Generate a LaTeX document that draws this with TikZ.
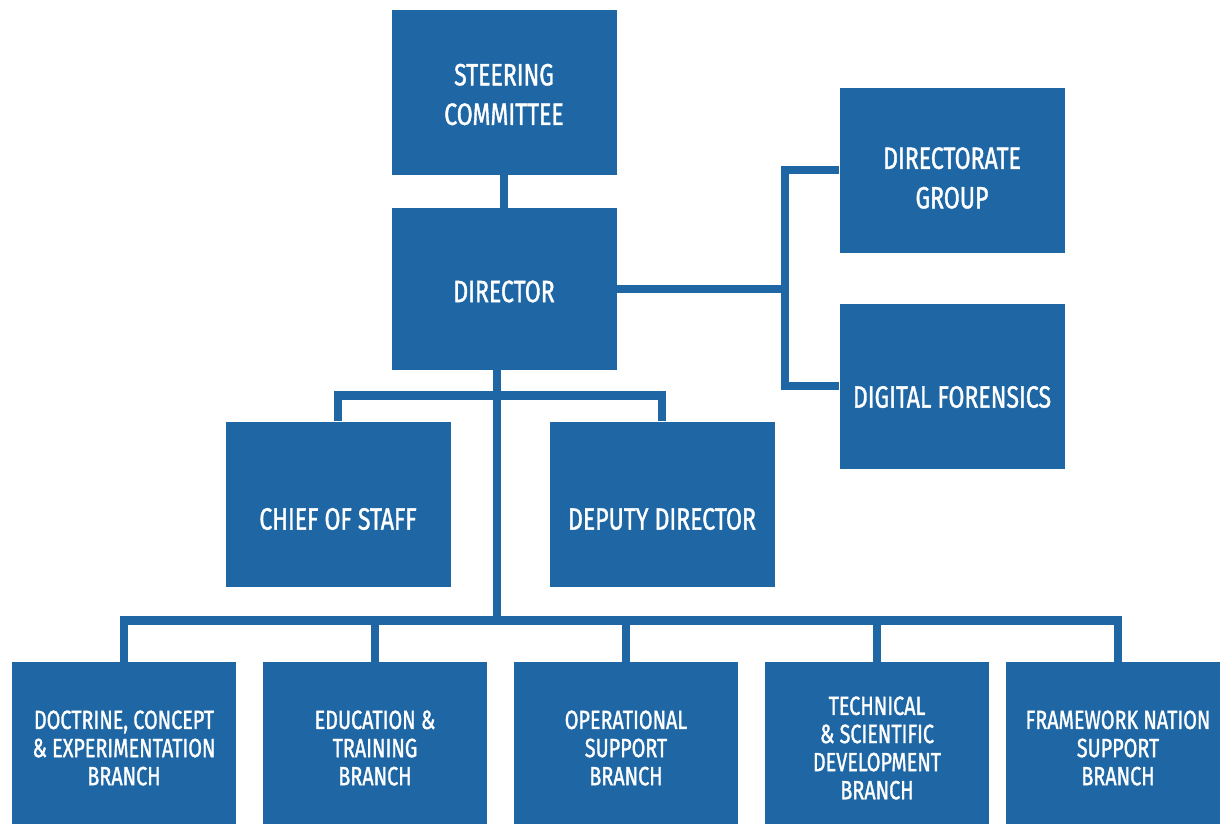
\documentclass[tikz,border=0pt]{standalone}
\usepackage{fontspec}
\setmainfont{Fira Sans}[FakeStretch=0.75, FakeBold=1.2]
\usetikzlibrary{calc}
\definecolor{orgblue}{RGB}{30,103,164}
\newcommand{\lowertext}[2]{\raisebox{-#1}[\height][\depth]{#2}}
\tikzset{
    unitbox/.style={fill=orgblue, text=white, align=center, inner sep=0pt,
        minimum width=225*0.02cm, minimum height=165*0.02cm,
        font=\fontsize{17.5}{22.5}\selectfont},
    branchbox/.style={unitbox, minimum width=224*0.02cm, minimum height=172*0.02cm,
        font=\fontsize{15}{16}\selectfont},
    link/.style={draw=orgblue, line width=5.1pt, line join=miter}
}

\begin{document}
\begin{tikzpicture}[x=0.02cm, y=-0.02cm]
            \clip (0, 0) rectangle (1220, 823);
            \node[unitbox] (steer) at (504, 92) {\lowertext{0.05cm}{STEERING}\\\lowertext{0.05cm}{COMMITTEE}};
            \node[unitbox, minimum height=162*0.02cm] (director) at (504, 289) {\lowertext{0.05cm}{DIRECTOR}};
            \node[unitbox] (dirgroup) at (952, 170) {\lowertext{0.16cm}{DIRECTORATE}\\\lowertext{0.16cm}{GROUP}};
            \node[unitbox] (forensics) at (952, 386) {\lowertext{0.22cm}{DIGITAL FORENSICS}};
            \node[unitbox] (chief) at (338, 504) {\lowertext{0.3cm}{CHIEF OF STAFF}};
            \node[unitbox] (deputy) at (662, 504) {\lowertext{0.3cm}{DEPUTY DIRECTOR}};
            \node[branchbox] (doctrine) at (124, 748) {DOCTRINE, CONCEPT\\\& EXPERIMENTATION\\BRANCH};
            \node[branchbox] (education) at (375, 748) {EDUCATION \&\\TRAINING\\BRANCH};
            \node[branchbox] (opsupport) at (626, 748) {OPERATIONAL\\SUPPORT\\BRANCH};
            \node[branchbox] (technical) at (877, 748) {TECHNICAL\\\& SCIENTIFIC\\DEVELOPMENT\\BRANCH};
            \node[branchbox] (framework) at (1118, 748) {FRAMEWORK NATION\\SUPPORT\\BRANCH};
            % links
            \coordinate (rbus) at (785, 289);
            \path (chief.north) ++(0, -26) coordinate (mbus);
            \path (doctrine.north) ++(0, -41) coordinate (bbus);
            \path (director.south) ++(-7, 0) coordinate (trunk);
            \draw[link] (steer) -- (director);
            \draw[link] (director.east) -- (rbus);
            \draw[link] (dirgroup.west) -| (rbus) |- (forensics.west);
            \draw[link] (chief.north) |- (mbus) -| (deputy.north);
            \draw[link] (trunk) -- (trunk |- bbus);
            \draw[link] (doctrine.north) |- (bbus) -| (framework.north);
            \foreach \b in {education, opsupport, technical}
                \draw[link] (\b.north) -- (\b.north |- bbus);
        \end{tikzpicture}
\end{document}
